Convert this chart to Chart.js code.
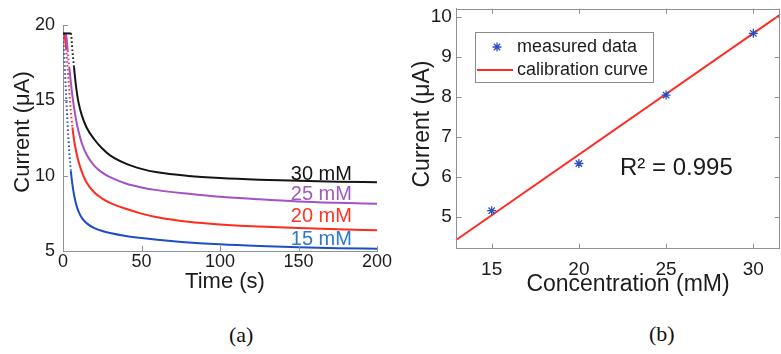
<!DOCTYPE html>
<html>
<head>
<meta charset="utf-8">
<script src="https://cdn.jsdelivr.net/npm/chart.js@4.4.0/dist/chart.umd.min.js"></script>
<style>
body { margin:0; background:#fff; width:781px; height:354px; position:relative; overflow:hidden; }
#chartA { position:absolute; left:0; top:0; }
#chartB { position:absolute; left:390px; top:0; }
.cap { position:absolute; font-family:'Liberation Serif','Times New Roman',serif; font-size:22px; color:#111; }
</style>
</head>
<body>
<canvas id="chartA" width="400" height="300"></canvas>
<canvas id="chartB" width="391" height="300"></canvas>
<div class="cap" style="left:229px; top:322px;">(a)</div>
<div class="cap" style="left:649px; top:321px;">(b)</div>
<script>
// (a) current transients
var timeS = [0, 1, 2, 3, 4, 5, 6, 7, 8, 9, 10, 12, 15, 20, 25, 30, 40, 50, 60, 80, 100, 125, 150, 175, 200];
var current30 = [19.44, 19.44, 19.44, 19.44, 19.44, 19.44, 18.3, 17.2, 16.2, 15.4, 14.8, 14.0, 13.2, 12.4, 11.8, 11.35, 10.8, 10.45, 10.22, 9.98, 9.84, 9.73, 9.66, 9.6, 9.56];
var current25 = [19.44, 19.44, 19.3, 18.3, 17.2, 16.2, 15.3, 14.55, 13.9, 13.35, 12.9, 12.15, 11.4, 10.65, 10.2, 9.9, 9.48, 9.22, 9.04, 8.8, 8.6, 8.43, 8.29, 8.2, 8.13];
var current20 = [19.44, 19.3, 18.4, 17.0, 15.6, 14.3, 13.2, 12.4, 11.8, 11.3, 10.9, 10.25, 9.55, 8.88, 8.48, 8.2, 7.8, 7.48, 7.24, 6.94, 6.76, 6.62, 6.52, 6.44, 6.38];
var current15 = [19.44, 17.5, 15.3, 13.3, 11.6, 10.3, 9.4, 8.75, 8.25, 7.88, 7.6, 7.2, 6.85, 6.52, 6.33, 6.2, 6.0, 5.86, 5.75, 5.57, 5.44, 5.33, 5.25, 5.19, 5.15];
var curveNames = ['30 mM', '25 mM', '20 mM', '15 mM'];
var timeTicks = [0, 50, 100, 150, 200];
var currentTicksA = [5, 10, 15, 20];

// (b) calibration
var concentration = [15, 20, 25, 30];
var measured = [5.15, 6.33, 8.04, 9.585];
var fitConc = [13, 31.5];
var fitCurrent = [4.43, 10.04];
var concTicks = [15, 20, 25, 30];
var currentTicksB = [5, 6, 7, 8, 9, 10];

var fam = '"Liberation Sans", Arial, sans-serif';
var axisColor = '#8a939a';
var textColor = '#1c1c1c';

function pts(xs, ys){
    return xs.map(function(v, i){ return {x: v, y: ys[i]}; });
}

// the fast first drop was sampled sparsely, so it shows as dots
function steep(ctx){
    var a = ctx.p0.parsed, b = ctx.p1.parsed;
    return (a.y - b.y) / (b.x - a.x) > 1.0 ? [1.5, 2.5] : undefined;
}

function curve(label, data, color){
    return {
        label: label,
        data: pts(timeS, data),
        borderColor: color,
        borderWidth: 2,
        pointRadius: 0,
        cubicInterpolationMode: 'monotone',
        segment: { borderDash: steep }
    };
}

// inward ticks, box lines, axis titles and free text
const decor = {
    id: 'decor',
    afterDraw(chart, args, o) {
        var ctx = chart.ctx, a = chart.chartArea;
        var x = chart.scales.x, y = chart.scales.y;
        ctx.save();
        ctx.strokeStyle = axisColor;
        ctx.lineWidth = 1;
        ctx.beginPath();
        x.ticks.forEach(function(t){
            var px = Math.round(x.getPixelForValue(t.value)) + 0.5;
            ctx.moveTo(px, a.bottom); ctx.lineTo(px, a.bottom - 5);
            if(o.box){ ctx.moveTo(px, a.top); ctx.lineTo(px, a.top + 5); }
        });
        y.ticks.forEach(function(t){
            var py = Math.round(y.getPixelForValue(t.value)) + 0.5;
            ctx.moveTo(a.left, py); ctx.lineTo(a.left + 5, py);
            if(o.box){ ctx.moveTo(a.right, py); ctx.lineTo(a.right - 5, py); }
        });
        if(o.box){
            ctx.moveTo(a.left, Math.round(a.top) + 0.5); ctx.lineTo(a.right, Math.round(a.top) + 0.5);
            ctx.moveTo(Math.round(a.right) - 0.5, a.top); ctx.lineTo(Math.round(a.right) - 0.5, a.bottom);
        }
        ctx.stroke();

        ctx.fillStyle = textColor;
        ctx.textAlign = 'center';
        ctx.textBaseline = 'middle';
        ctx.font = o.titleSize + 'px ' + fam;
        ctx.fillText(o.xTitle, o.xTitleAt[0], o.xTitleAt[1]);
        ctx.save();
        ctx.translate(o.yTitleAt[0], o.yTitleAt[1]);
        ctx.rotate(-Math.PI / 2);
        ctx.fillText(o.yTitle, 0, 0);
        ctx.restore();

        if(o.curveLabels){
            ctx.textAlign = 'right';
            ctx.textBaseline = 'alphabetic';
            ctx.font = '20px ' + fam;
            o.curveLabels.forEach(function(c, i){
                ctx.fillStyle = c.color;
                ctx.fillText(curveNames[i], x.getPixelForValue(o.labelX), y.getPixelForValue(c.y));
            });
        }

        if(o.legend){
            var L = o.legend;
            var ds0 = chart.data.datasets[0], ds1 = chart.data.datasets[1];
            ctx.strokeStyle = '#8c8c8c';
            ctx.strokeRect(L.x + 0.5, L.y + 0.5, L.w, L.h);
            ctx.strokeStyle = ds0.borderColor;
            ctx.lineWidth = ds0.borderWidth;
            Chart.helpers.drawPoint(ctx, {pointStyle: ds0.pointStyle, radius: ds0.radius, borderWidth: ds0.borderWidth}, L.x + 22, L.y + 15);
            ctx.strokeStyle = ds1.borderColor;
            ctx.lineWidth = 2;
            ctx.beginPath();
            ctx.moveTo(L.x + 2, L.y + 38); ctx.lineTo(L.x + 38, L.y + 38);
            ctx.stroke();
            ctx.fillStyle = textColor;
            ctx.textAlign = 'left';
            ctx.textBaseline = 'middle';
            ctx.font = '18px ' + fam;
            ctx.fillText(ds0.label, L.x + 42, L.y + 15);
            ctx.fillText(ds1.label, L.x + 42, L.y + 38);
        }

        if(o.note){
            ctx.fillStyle = textColor;
            ctx.textAlign = 'left';
            ctx.textBaseline = 'alphabetic';
            ctx.font = '24px ' + fam;
            ctx.fillText(o.note.text, o.note.x, o.note.y);
        }
        ctx.restore();
    }
};

function fixedTicks(list){
    return function(s){ s.ticks = list.map(function(v){ return {value: v}; }); };
}

var noGrid = { display: false, drawTicks: false, tickLength: 0 };

new Chart(document.getElementById('chartA'), {
    type: 'line',
    data: {
        datasets: [
            curve('30 mM', current30, '#141414'),
            curve('25 mM', current25, '#a650c6'),
            curve('20 mM', current20, '#ff2b1c'),
            curve('15 mM', current15, '#1d4fc4')
        ]
    },
    options: {
        responsive: false,
        animation: false,
        layout: { autoPadding: false, padding: {left: 0, right: 23, top: 25, bottom: 0} },
        plugins: {
            legend: { display: false },
            tooltip: { enabled: false },
            decor: {
                box: false,
                titleSize: 22,
                xTitle: 'Time (s)', xTitleAt: [225, 282],
                yTitle: 'Current (μA)', yTitleAt: [23, 132],
                labelX: 184,
                curveLabels: [
                    {y: 9.71, color: '#141414'},
                    {y: 8.39, color: '#9f5ac0'},
                    {y: 6.93, color: '#ff3326'},
                    {y: 5.40, color: '#2a7ad0'}
                ]
            }
        },
        scales: {
            x: {
                type: 'linear', min: 0, max: 200,
                afterBuildTicks: fixedTicks(timeTicks),
                afterFit: function(s){ s.height = 49; s.paddingLeft = 0; s.paddingRight = 0; },
                grid: noGrid,
                border: { display: true, color: axisColor, width: 1 },
                ticks: { font: {size: 18, family: fam}, color: textColor, padding: 0, maxRotation: 0 }
            },
            y: {
                type: 'linear', min: 5, max: 20,
                afterBuildTicks: fixedTicks(currentTicksA),
                afterFit: function(s){ s.width = 63; s.paddingTop = 0; s.paddingBottom = 0; },
                grid: noGrid,
                border: { display: true, color: axisColor, width: 1 },
                ticks: { font: {size: 18, family: fam}, color: textColor, padding: 8 }
            }
        }
    },
    plugins: [decor]
});

new Chart(document.getElementById('chartB'), {
    type: 'scatter',
    data: {
        datasets: [
            {
                label: 'measured data',
                data: pts(concentration, measured),
                pointStyle: 'star',
                radius: 4.5,
                borderColor: '#2b4fc0',
                backgroundColor: '#2b4fc0',
                borderWidth: 1.3
            },
            {
                label: 'calibration curve',
                data: pts(fitConc, fitCurrent),
                showLine: true,
                borderColor: '#ff2a22',
                borderWidth: 2,
                pointRadius: 0
            }
        ]
    },
    options: {
        responsive: false,
        animation: false,
        layout: { autoPadding: false, padding: {left: 0, right: 1.5, top: 8.7, bottom: 0} },
        plugins: {
            legend: { display: false },
            tooltip: { enabled: false },
            decor: {
                box: true,
                titleSize: 23,
                xTitle: 'Concentration (mM)', xTitleAt: [238, 285],
                yTitle: 'Current (μA)', yTitleAt: [33, 124],
                legend: {x: 85, y: 32, w: 178, h: 50},
                note: {text: 'R² = 0.995', x: 230, y: 175}
            }
        },
        scales: {
            x: {
                type: 'linear', min: 13, max: 31.5,
                afterBuildTicks: fixedTicks(concTicks),
                afterFit: function(s){ s.height = 51.3; s.paddingLeft = 0; s.paddingRight = 0; },
                grid: noGrid,
                border: { display: true, color: axisColor, width: 1 },
                ticks: { font: {size: 19, family: fam}, color: textColor, padding: 10, maxRotation: 0 }
            },
            y: {
                type: 'linear', min: 4.2, max: 10.2,
                afterBuildTicks: fixedTicks(currentTicksB),
                afterFit: function(s){ s.width = 66.8; s.paddingTop = 0; s.paddingBottom = 0; },
                grid: noGrid,
                border: { display: true, color: axisColor, width: 1 },
                ticks: { font: {size: 19, family: fam}, color: textColor, padding: 5 }
            }
        }
    },
    plugins: [decor]
});
</script>
</body>
</html>
